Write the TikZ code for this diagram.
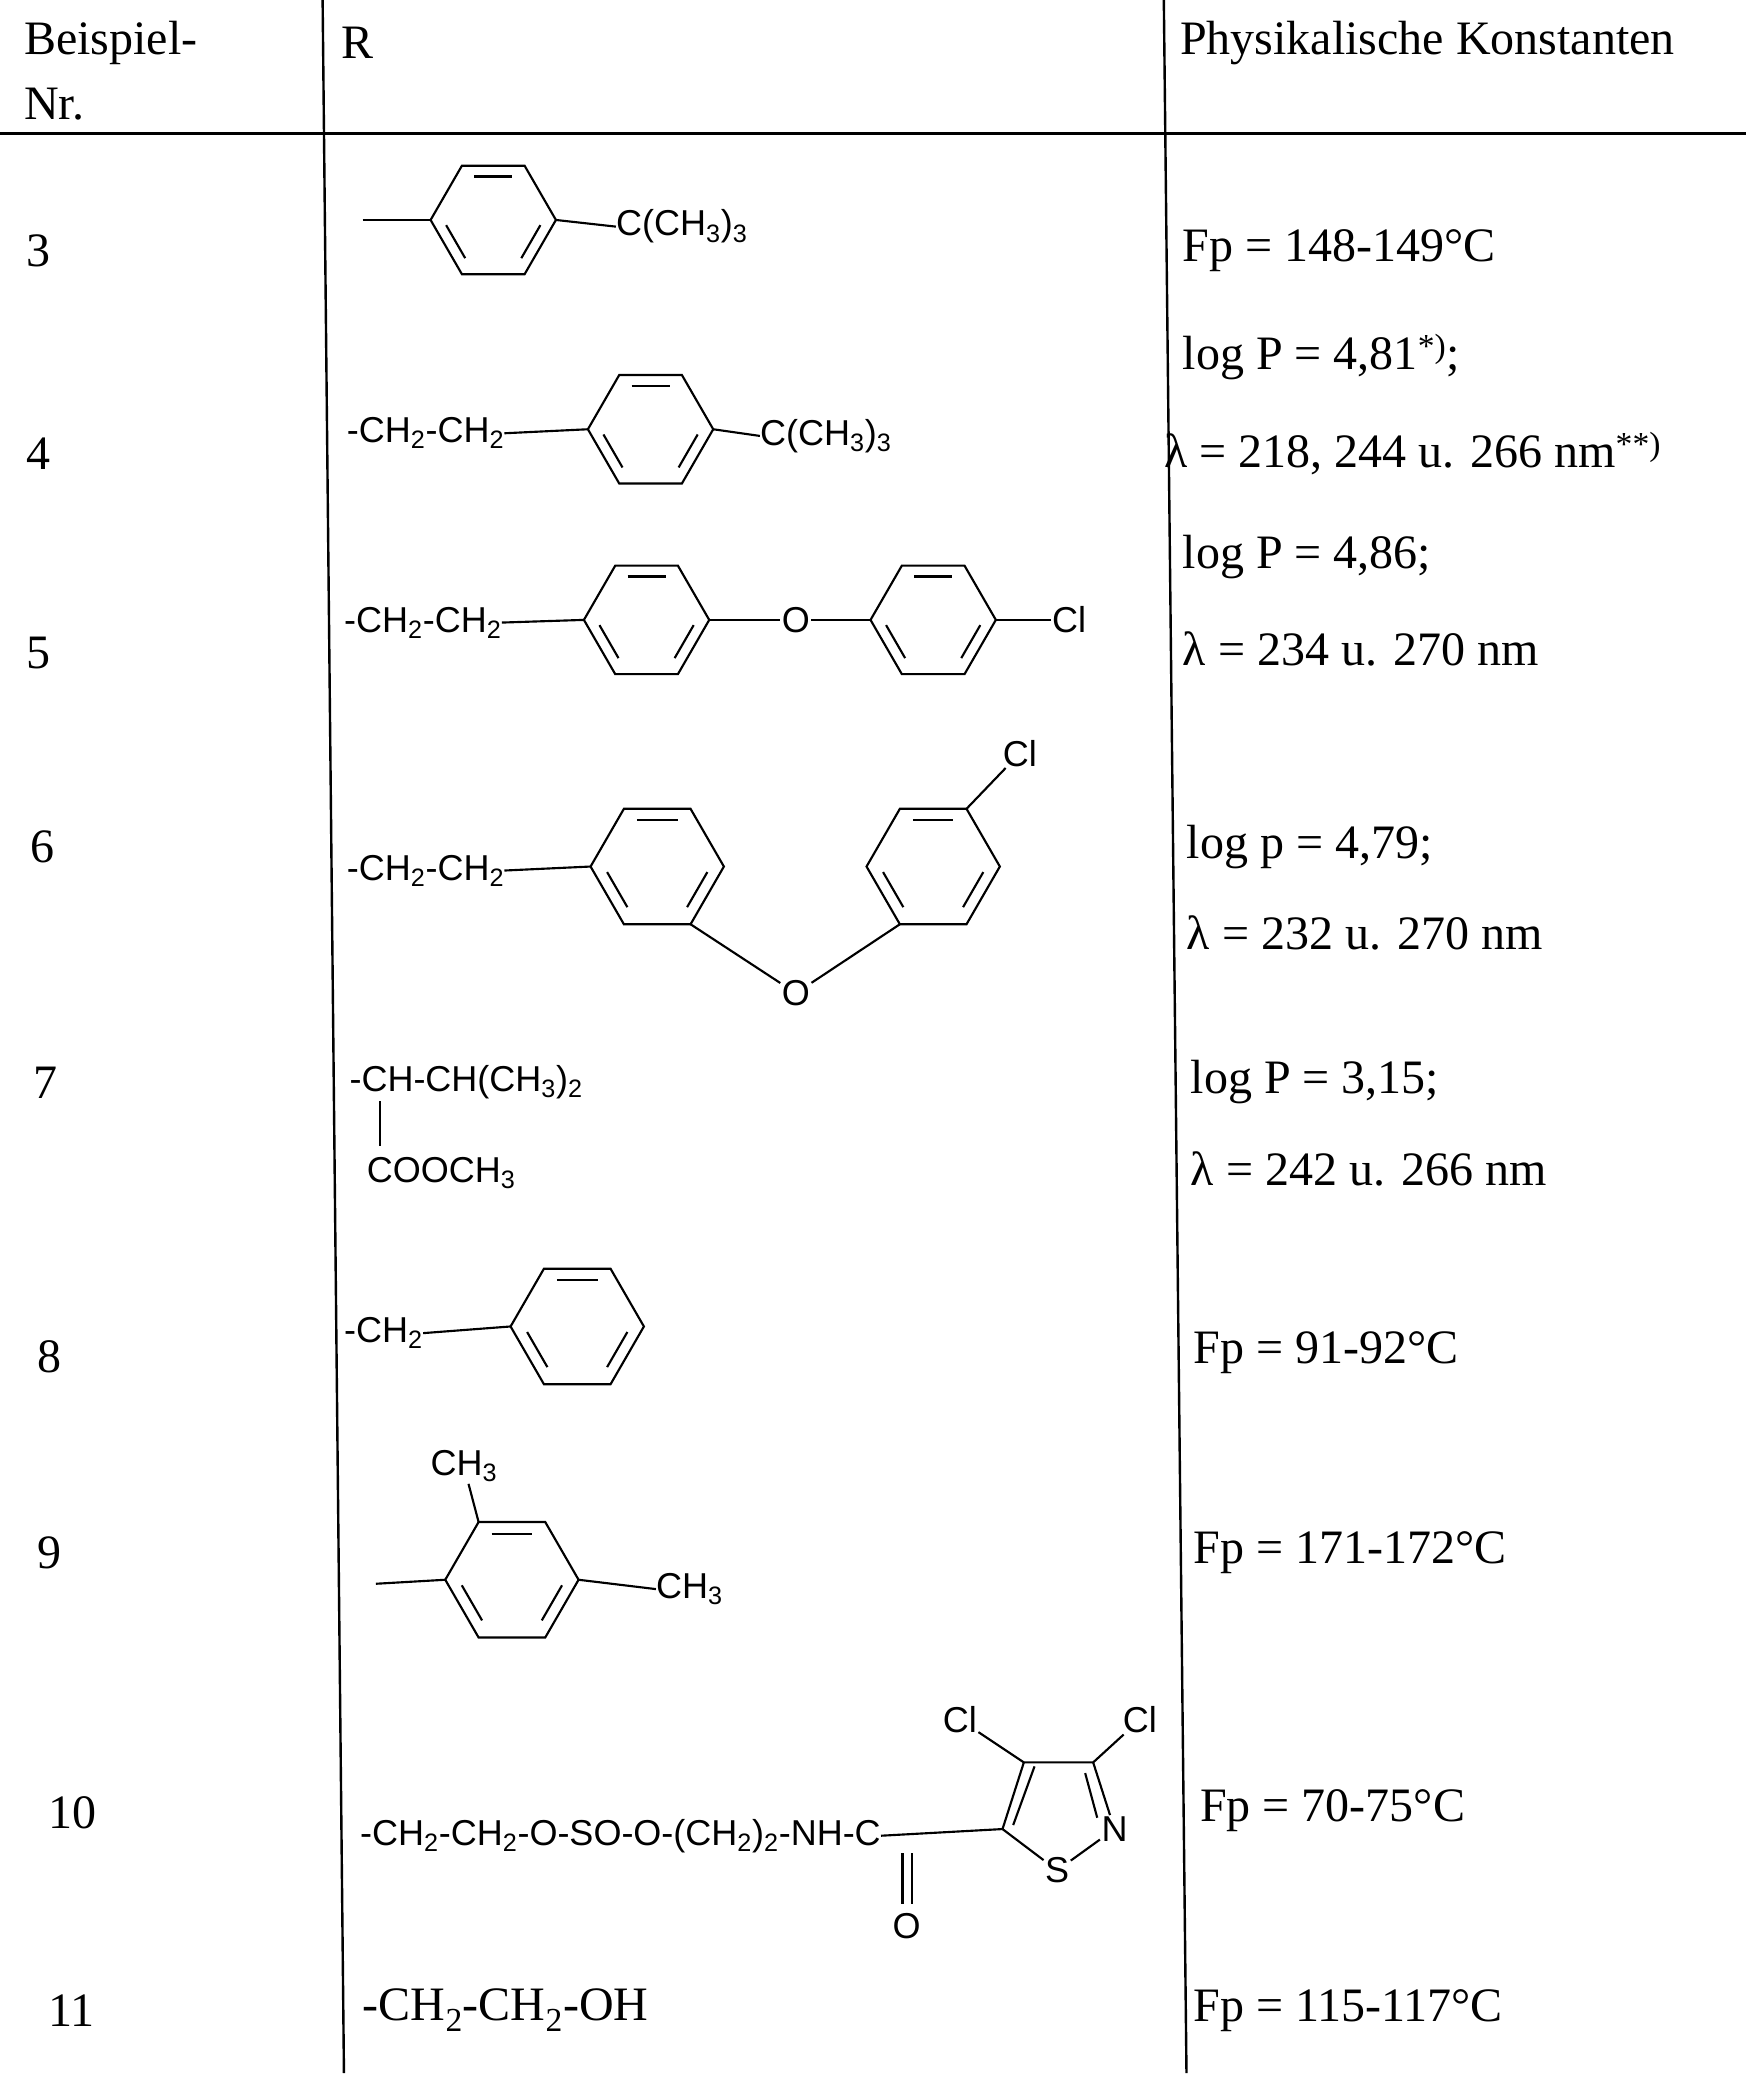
\documentclass[tikz,border=0pt]{standalone}
\usepackage{fontspec}
\setmainfont{Liberation Serif}
\setsansfont{Liberation Sans}
\usetikzlibrary{calc}
\newcommand\ring[4]{%
 \coordinate (#4-c) at (#1,#2);
 \foreach \a in {0,60,...,300}{\coordinate (#4-\a) at ($(#4-c)+(\a:#3)$);\coordinate (#4-i\a) at ($(#4-c)+(\a:0.8*#3)$);}
 \draw[bond] (#4-0)--(#4-60)--(#4-120)--(#4-180)--(#4-240)--(#4-300)--cycle;
 \foreach \p/\q in {0/60,120/180,240/300}{\draw[bond] ($(#4-i\p)!0.12!(#4-i\q)$)--($(#4-i\p)!0.88!(#4-i\q)$);}
}
\newcommand\sub[1]{\textsubscript{#1}}
\begin{document}
\begin{tikzpicture}[x=1pt,y=-1pt,
 bond/.style={line width=1.6pt},
 rule/.style={line width=1.8pt},
 tx/.style={font=\fontsize{36}{40}\selectfont,anchor=west,inner sep=0pt},
 ch/.style={font=\sffamily\fontsize{27}{30}\selectfont,anchor=west,inner sep=0pt},
 atm/.style={font=\sffamily\fontsize{27}{30}\selectfont,inner sep=1pt}]
\useasboundingbox (0,0) rectangle (1310,1570);
% rules
\draw[rule] (0,100)--(1310,100);
\draw[rule] (242,0)--(258,1555);
\draw[rule] (873,0)--(890,1555);
% header
\node[tx] (h1) at (18,32) {Beispiel-};
\node[tx] (h2) at (18,78) {Nr.};
\node[tx] (h3) at (256,32) {R};
\node[tx] (h4) at (885,32) {Physikalische Konstanten};
% numbers
\node[tx] (n3) at (20,188) {3};
\node[tx] (n4) at (20,340) {4};
\node[tx] (n5) at (20,490) {5};
\node[tx] (n6) at (23,635) {6};
\node[tx] (n7) at (25,812) {7};
\node[tx] (n8) at (28,1018) {8};
\node[tx] (n9) at (28,1165) {9};
\node[tx] (n10) at (36,1360) {10};
\node[tx] (n11) at (36,1508) {11};
% constants
\node[tx] (k3) at (887,188) {Fp = 148-149°C};
\node[tx] (k4a) at (887,268) {log P = 4,81\textsuperscript{*)};};
\node[tx] (k4b) at (873,340) {λ = 218, 244 u. 266 nm\textsuperscript{**)}};
\node[tx] (k5a) at (887,418) {log P = 4,86;};
\node[tx] (k5b) at (887,487) {λ = 234 u. 270 nm};
\node[tx] (k6a) at (890,635) {log p = 4,79;};
\node[tx] (k6b) at (890,700) {λ = 232 u. 270 nm};
\node[tx] (k7a) at (893,812) {log P = 3,15;};
\node[tx] (k7b) at (893,877) {λ = 242 u. 266 nm};
\node[tx] (k8) at (895,1015) {Fp = 91-92°C};
\node[tx] (k9) at (895,1165) {Fp = 171-172°C};
\node[tx] (k10) at (900,1358) {Fp = 70-75°C};
\node[tx] (k11) at (895,1508) {Fp = 115-117°C};
% row 3
\ring{370}{165}{47}{a}
\coordinate (a-l) at (272,165);
\draw[bond] (a-l)--(a-180);
\node[ch] (a-t) at (462,170) {C(CH\sub{3})\sub{3}};
\draw[bond] (a-0)--(a-t.west);
% row 4
\node[ch] (b-e) at (260,325) {-CH\sub{2}-CH\sub{2}};
\ring{488}{322}{47}{b}
\draw[bond] (b-e.east)--(b-180);
\node[ch] (b-t) at (570,327) {C(CH\sub{3})\sub{3}};
\draw[bond] (b-0)--(b-t.west);
% row 5
\node[ch] (c-e) at (258,467) {-CH\sub{2}-CH\sub{2}};
\ring{485}{465}{47}{c}
\ring{700}{465}{47}{d}
\draw[bond] (c-e.east)--(c-180);
\node[atm] (c-o) at (597,465) {O};
\draw[bond] (c-0)--(c-o)--(d-180);
\node[atm] (c-cl) at (802,465) {Cl};
\draw[bond] (d-0)--(c-cl);
% row 6
\node[ch] (e-e) at (260,653) {-CH\sub{2}-CH\sub{2}};
\ring{493}{650}{50}{e}
\ring{700}{650}{50}{f}
\draw[bond] (e-e.east)--(e-180);
\node[atm] (e-o) at (597,745) {O};
\draw[bond] (e-60)--(e-o)--(f-120);
\node[atm] (e-cl) at (765,565) {Cl};
\draw[bond] (f-300)--(e-cl);
% row 7
\node[ch] (g-1) at (262,812) {-CH-CH(CH\sub{3})\sub{2}};
\node[ch] (g-2) at (275,880) {COOCH\sub{3}};
\draw[bond] (285,826)--(285,860);
% row 8
\node[ch] (h-e) at (258,1000) {-CH\sub{2}};
\ring{433}{995}{50}{h}
\draw[bond] (h-e.east)--(h-180);
% row 9
\ring{384}{1185}{50}{i}
\coordinate (i-l) at (282,1188);
\draw[bond] (i-l)--(i-180);
\node[atm] (i-m1) at (348,1100) {CH\sub{3}};
\draw[bond] (i-240)--(i-m1);
\node[ch] (i-m2) at (492,1192) {CH\sub{3}};
\draw[bond] (i-0)--(i-m2.west);
% row 10
\node[ch] (j-e) at (270,1377) {-CH\sub{2}-CH\sub{2}-O-SO-O-(CH\sub{2})\sub{2}-NH-C};
\node[atm] (j-o) at (680,1445) {O};
\draw[bond] (677,1390)--(677,1428);
\draw[bond] (684,1390)--(684,1428);
\coordinate (j-c5) at (752,1372);
\coordinate (j-c4) at (768,1322);
\coordinate (j-c3) at (820,1322);
\node[atm] (j-n) at (836,1372) {N};
\node[atm] (j-s) at (793,1403) {S};
\draw[bond] (j-e.east)--(j-c5);
\draw[bond] (j-c5)--(j-c4)--(j-c3)--(j-n)--(j-s)--(j-c5);
\draw[bond] ($(j-c5)+(8,-3)$)--($(j-c4)+(8,3)$);
\draw[bond] ($(j-c3)+(-6,8)$)--($(j-n.north west)+(-2,2)$);
\node[atm] (j-cl1) at (720,1290) {Cl};
\node[atm] (j-cl2) at (855,1290) {Cl};
\draw[bond] (j-c4)--(j-cl1);
\draw[bond] (j-c3)--(j-cl2);
% row 11
\node[tx] (k-e) at (272,1508) {-CH\sub{2}-CH\sub{2}-OH};
\end{tikzpicture}
\end{document}
